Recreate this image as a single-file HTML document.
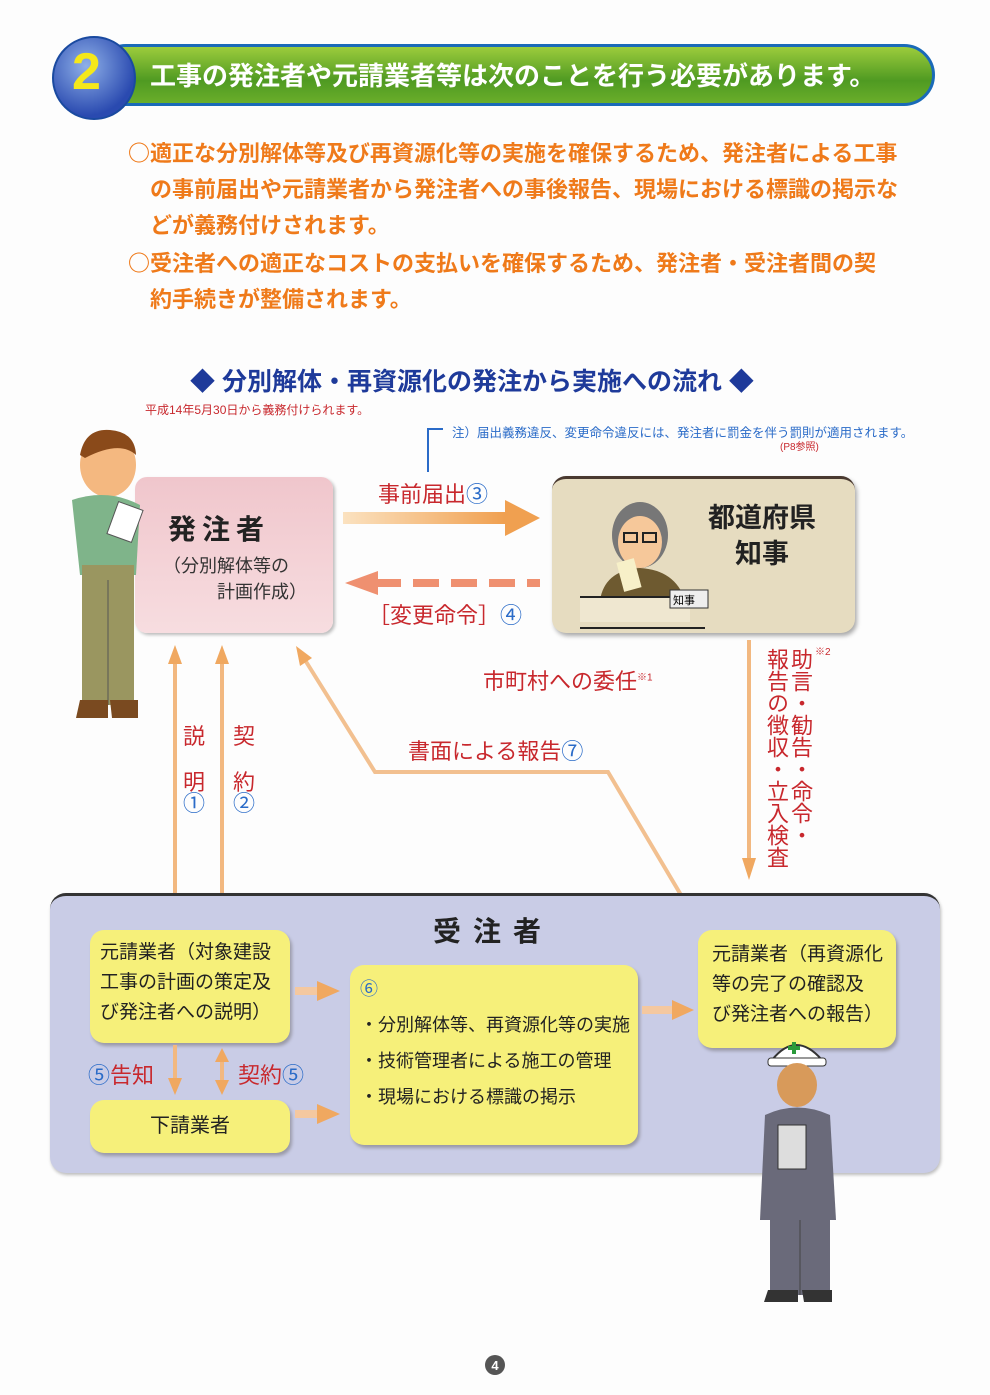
<!DOCTYPE html>
<html><head><meta charset="utf-8"><style>
body{margin:0;width:990px;height:1395px;background:#fdfdfd;position:relative;overflow:hidden;font-family:"Liberation Sans","Noto Sans CJK JP",sans-serif}
.a{position:absolute;white-space:nowrap}
.or{color:#ef7a1a;font-weight:bold;font-size:22px}
.red{color:#c8282d}
.blue{color:#2a6bc8}
.yb{position:absolute;background:#f6f07a;border-radius:14px;box-shadow:2px 3px 3px #9a9aa8;font-size:20px;color:#222;line-height:30px;white-space:nowrap}
.vt{position:absolute;writing-mode:vertical-rl;font-size:22px;line-height:24px;color:#c8282d;white-space:nowrap}
</style></head><body>
<!-- header -->
<div class="a" style="left:95px;top:44px;width:840px;height:62px;border-radius:31px;background:linear-gradient(#9ccc3c,#4f9a22 60%,#6aae2a);border:3px solid #1a6ab8;box-sizing:border-box"></div>
<div class="a" style="left:150px;top:56px;font-size:26px;font-weight:bold;color:#fff;letter-spacing:0px">工事の発注者や元請業者等は次のことを行う必要があります。</div>
<div class="a" style="left:52px;top:36px;width:80px;height:80px;border-radius:50%;background:radial-gradient(circle at 40% 35%,#8fb0e8,#2a4ab0 70%);border:2px solid #1a4aa0"></div>
<div class="a" style="left:72px;top:42px;font-size:52px;font-weight:bold;color:#f5e81a">2</div>
<!-- intro -->
<div class="a or" style="left:128px;top:134px;line-height:36px"><span style="font-family:'Noto Sans CJK JP'">○</span>適正な分別解体等及び再資源化等の実施を確保するため、発注者による工事<br><span style="padding-left:22px">の事前届出や元請業者から発注者への事後報告、現場における標識の掲示な</span><br><span style="padding-left:22px">どが義務付けされます。</span><br><span style="font-family:'Noto Sans CJK JP'">○</span>受注者への適正なコストの支払いを確保するため、発注者・受注者間の契<br><span style="padding-left:22px">約手続きが整備されます。</span></div>
<!-- title -->
<div class="a" style="left:190px;top:362px;font-size:25px;font-weight:bold;color:#1e3a9a">◆ 分別解体・再資源化の発注から実施への流れ ◆</div>
<div class="a red" style="left:145px;top:401px;font-size:12px">平成14年5月30日から義務付けられます。</div>
<div class="a" style="left:427px;top:428px;width:14px;height:42px;border-left:2px solid #2a6bc8;border-top:2px solid #2a6bc8"></div>
<div class="a blue" style="left:452px;top:422px;font-size:12.5px">注）届出義務違反、変更命令違反には、発注者に罰金を伴う罰則が適用されます。</div>
<div class="a red" style="left:780px;top:438px;font-size:10px">(P8参照)</div>
<!-- orderer box -->
<div class="a" style="left:135px;top:477px;width:198px;height:156px;border-radius:12px;background:linear-gradient(#f0c6cc,#f7dde0);box-shadow:2px 2px 3px #bbb"></div>
<div class="a" style="left:168px;top:508px;font-size:28px;font-weight:bold;color:#222;letter-spacing:6px">発注者</div>
<div class="a" style="left:163px;top:553px;font-size:18px;color:#333;line-height:26px">（分別解体等の<br>　　　計画作成）</div>
<!-- governor box -->
<div class="a" style="left:552px;top:476px;width:303px;height:157px;border-radius:14px;background:#e6dcc0;border-top:3px solid #4a3a30;box-sizing:border-box;box-shadow:2px 3px 4px #aaa"></div>
<div class="a" style="left:708px;top:500px;font-size:27px;font-weight:bold;color:#222;line-height:36px;text-align:center">都道府県<br>知事</div>
<svg class="a" style="left:560px;top:480px" width="160" height="150">
<ellipse cx="80" cy="55" rx="28" ry="33" fill="#777"/>
<ellipse cx="80" cy="62" rx="22" ry="26" fill="#f6c89a"/>
<rect x="64" y="53" width="13" height="9" fill="none" stroke="#222" stroke-width="2"/><rect x="83" y="53" width="13" height="9" fill="none" stroke="#222" stroke-width="2"/>
<path d="M40 120 Q45 90 80 88 Q115 90 125 120 Z" fill="#6e5a30"/>
<rect x="60" y="80" width="18" height="30" fill="#f7f0c8" transform="rotate(-15 69 95)"/>
<rect x="20" y="118" width="110" height="24" fill="#efe7d0"/>
<line x1="20" y1="117" x2="130" y2="117" stroke="#222" stroke-width="2"/>
<rect x="110" y="110" width="38" height="18" fill="#eee" stroke="#333"/>
<text x="113" y="124" font-size="11" font-family="Noto Sans CJK JP">知事</text>
<line x1="20" y1="148" x2="145" y2="148" stroke="#222" stroke-width="2"/>
</svg>
<svg class="a" style="left:0;top:0" width="990" height="1395">
<defs>
<linearGradient id="g1" x1="0" x2="1"><stop offset="0" stop-color="#fbe2c0"/><stop offset="1" stop-color="#f0a050"/></linearGradient>
</defs>
<rect x="343" y="512" width="162" height="12" fill="url(#g1)"/>
<path d="M505 500 L540 518 L505 536Z" fill="#f0a050"/>
<path d="M375 583 H540" stroke="#ef9070" stroke-width="8" stroke-dasharray="26 12"/>
<path d="M345 583 L378 571 L378 595Z" fill="#ef9070"/>
<line x1="749" y1="640" x2="749" y2="860" stroke="#f2b880" stroke-width="4"/>
<path d="M742 858 L749 880 L756 858Z" fill="#f0a860"/>
<line x1="175" y1="662" x2="175" y2="930" stroke="#f2b880" stroke-width="4"/>
<path d="M168 664 L175 645 L182 664Z" fill="#f0a860"/>
<line x1="222" y1="662" x2="222" y2="900" stroke="#f2b880" stroke-width="4"/>
<path d="M215 664 L222 645 L229 664Z" fill="#f0a860"/>
<path d="M215 898 L222 918 L229 898Z" fill="#f0a860"/>
<polyline points="697,922 608,772 375,772 305,660" fill="none" stroke="#f2c090" stroke-width="4"/>
<path d="M296 646 L312 658 L300 666Z" fill="#f0a860"/>
</svg>
<div class="a red" style="left:378px;top:477px;font-size:22px">事前届出<span class="blue">③</span></div>
<div class="a red" style="left:368px;top:598px;font-size:22px">［変更命令］<span class="blue">④</span></div>
<div class="a red" style="left:483px;top:664px;font-size:22px">市町村への委任<sup style="font-size:10px">※1</sup></div>
<div class="vt" style="left:788px;top:648px">助言・勧告・命令・</div>
<div class="vt" style="left:764px;top:648px">報告の徴収・立入検査</div>
<div class="a red" style="left:815px;top:643px;font-size:10px">※2</div>
<div class="a red" style="left:183px;top:714px;font-size:22px;line-height:46px">説<br>明</div>
<div class="a blue" style="left:183px;top:786px;font-size:22px">①</div>
<div class="a red" style="left:233px;top:714px;font-size:22px;line-height:46px">契<br>約</div>
<div class="a blue" style="left:233px;top:786px;font-size:22px">②</div>
<div class="a red" style="left:408px;top:734px;font-size:22px">書面による報告<span class="blue">⑦</span></div>
<!-- contractor area -->
<div class="a" style="left:50px;top:893px;width:890px;height:280px;border-radius:16px;background:#c9cce6;border-top:3px solid #333;box-sizing:border-box;box-shadow:1px 2px 3px #bbb"></div>
<div class="a" style="left:433px;top:910px;font-size:28px;font-weight:bold;color:#222;letter-spacing:12px">受注者</div>
<div class="yb" style="left:90px;top:930px;width:200px;height:113px;padding:8px 0 0 10px;box-sizing:border-box;font-size:19px">元請業者（対象建設<br>工事の計画の策定及<br>び発注者への説明）</div>
<div class="yb" style="left:90px;top:1100px;width:200px;height:53px;text-align:center;line-height:53px">下請業者</div>
<div class="yb" style="left:350px;top:965px;width:288px;height:180px;padding:6px 0 0 10px;box-sizing:border-box;font-size:18px;line-height:36px"><span class="blue">⑥</span><br>・分別解体等、再資源化等の実施<br>・技術管理者による施工の管理<br>・現場における標識の掲示</div>
<div class="yb" style="left:698px;top:930px;width:198px;height:118px;padding:10px 0 0 14px;box-sizing:border-box;font-size:19px">元請業者（再資源化<br>等の完了の確認及<br>び発注者への報告）</div>
<svg class="a" style="left:0;top:0" width="990" height="1395">
<rect x="295" y="987" width="22" height="8" fill="#f4c8a0"/><path d="M317 981 L340 991 L317 1001Z" fill="#f0a860"/>
<rect x="295" y="1110" width="22" height="8" fill="#f4c8a0"/><path d="M317 1104 L340 1114 L317 1124Z" fill="#f0a860"/>
<rect x="642" y="1006" width="30" height="8" fill="#f4c8a0"/><path d="M672 1000 L694 1010 L672 1020Z" fill="#f0a860"/>
<line x1="175" y1="1045" x2="175" y2="1080" stroke="#f2b880" stroke-width="4"/><path d="M168 1078 L175 1095 L182 1078Z" fill="#f0a860"/>
<line x1="222" y1="1058" x2="222" y2="1082" stroke="#f2b880" stroke-width="4"/><path d="M215 1062 L222 1048 L229 1062Z" fill="#f0a860"/><path d="M215 1080 L222 1095 L229 1080Z" fill="#f0a860"/>
<ellipse cx="108" cy="465" rx="28" ry="32" fill="#f4b880"/>
<path d="M80 455 Q85 428 110 430 Q135 432 136 455 Q120 440 85 458Z" fill="#8a4a1a"/>
<path d="M72 500 Q108 488 140 505 L136 575 L80 575Z" fill="#7fb48a"/>
<rect x="82" y="565" width="52" height="140" fill="#9a9660"/>
<line x1="108" y1="580" x2="108" y2="705" stroke="#555"/>
<path d="M80 700 h28 v18 h-32Z M110 700 h28 v18 h-26Z" fill="#7a4a20"/>
<rect x="112" y="505" width="26" height="34" fill="#fff" stroke="#555" transform="rotate(20 125 522)"/>
<path d="M772 1060 Q796 1030 822 1060 Z" fill="#fff" stroke="#333" stroke-width="2"/>
<rect x="768" y="1058" width="58" height="8" rx="3" fill="#fff" stroke="#333"/>
<path d="M794 1042 v12 M788 1048 h12" stroke="#2a9a3a" stroke-width="4"/>
<ellipse cx="797" cy="1085" rx="20" ry="22" fill="#d89a5a"/>
<path d="M765 1115 Q797 1100 830 1115 L836 1220 L760 1220Z" fill="#6a6a7a"/>
<rect x="770" y="1215" width="60" height="80" fill="#6a6a7a"/>
<line x1="800" y1="1220" x2="800" y2="1295" stroke="#444"/>
<rect x="778" y="1125" width="28" height="44" fill="#ddd" stroke="#333"/>
<path d="M768 1290 h30 v12 h-34Z M802 1290 h30 v12 h-28Z" fill="#333"/>
<circle cx="495" cy="1365" r="10" fill="#555"/>
<text x="495" y="1370" font-size="13" fill="#fff" text-anchor="middle" font-weight="bold" font-family="Liberation Sans">4</text>
</svg>
<div class="a" style="left:88px;top:1058px;font-size:22px"><span class="blue">⑤</span><span class="red">告知</span></div>
<div class="a" style="left:238px;top:1058px;font-size:22px"><span class="red">契約</span><span class="blue">⑤</span></div>
</body></html>
